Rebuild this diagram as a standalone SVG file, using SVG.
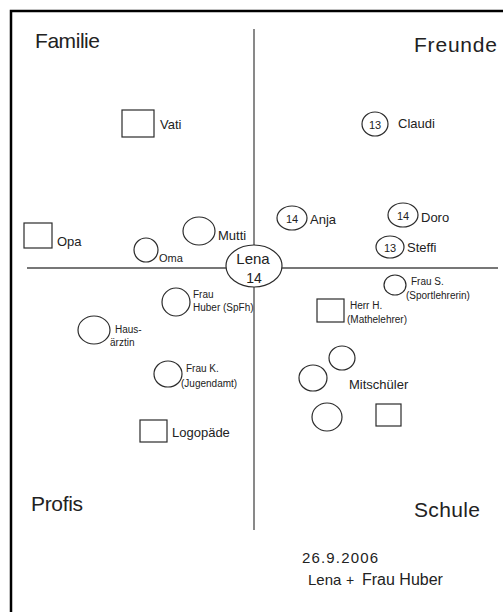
<svg xmlns="http://www.w3.org/2000/svg" width="503" height="612" viewBox="0 0 503 612">
<style>
.sh{fill:none;stroke:#2b2b2b;stroke-width:1.2}
.ax{fill:none;stroke:#4a4a4a;stroke-width:1.3}
text{font-family:"Liberation Sans",Arial,sans-serif;fill:#222}
.t{font-size:13px}
.s{font-size:10px}
.q{font-size:21px}
.n{font-size:11px}
</style>
<rect x="0" y="0" width="503" height="612" fill="#ffffff"/>
<path d="M11,620 V11 H520" fill="none" stroke="#000" stroke-width="2.5"/>
<g id="connectors">
<line class="ax" x1="254" y1="29" x2="254" y2="245"/>
<line class="ax" x1="254" y1="287" x2="254" y2="530"/>
<line class="ax" x1="27" y1="268" x2="226" y2="268"/>
<line class="ax" x1="282" y1="268" x2="498" y2="268"/>
</g>
<g id="quadrants">
<text class="q" x="35" y="48" textLength="65">Familie</text>
<text class="q" x="414" y="52" textLength="83">Freunde</text>
<text class="q" x="31" y="511" textLength="52">Profis</text>
<text class="q" x="414" y="517" textLength="66">Schule</text>
</g>
<g id="lena">
<ellipse class="sh" cx="254" cy="266" rx="28" ry="21" stroke-width="1.8"/>
<text x="253" y="264" font-size="15" text-anchor="middle">Lena</text>
<text x="254" y="283" font-size="14" text-anchor="middle">14</text>
</g>
<g id="vati">
<rect class="sh" x="122" y="110" width="32" height="27"/>
<text class="t" x="160" y="129">Vati</text>
</g>
<g id="opa">
<rect class="sh" x="24" y="223" width="28" height="25"/>
<text class="t" x="57" y="246">Opa</text>
</g>
<g id="oma">
<ellipse class="sh" cx="146" cy="250" rx="12" ry="12"/>
<text class="n" x="159" y="262">Oma</text>
</g>
<g id="mutti">
<ellipse class="sh" cx="199" cy="231" rx="16" ry="14"/>
<text class="t" x="218" y="240">Mutti</text>
</g>
<g id="claudi">
<ellipse class="sh" cx="375" cy="124" rx="13" ry="12"/>
<text class="n" x="375" y="129" text-anchor="middle">13</text>
<text class="t" x="398" y="128">Claudi</text>
</g>
<g id="anja">
<ellipse class="sh" cx="292" cy="218" rx="15" ry="12"/>
<text class="n" x="292" y="223" text-anchor="middle">14</text>
<text class="t" x="310" y="224">Anja</text>
</g>
<g id="doro">
<ellipse class="sh" cx="403" cy="215" rx="15" ry="12"/>
<text class="n" x="403" y="220" text-anchor="middle">14</text>
<text class="t" x="421" y="222">Doro</text>
</g>
<g id="steffi">
<ellipse class="sh" cx="390" cy="247" rx="14" ry="11"/>
<text class="n" x="390" y="252" text-anchor="middle">13</text>
<text class="t" x="407" y="252">Steffi</text>
</g>
<g id="frau-s">
<ellipse class="sh" cx="395" cy="285" rx="11" ry="10"/>
<text class="s" x="411" y="285">Frau S.</text>
<text class="s" x="406" y="299">(Sportlehrerin)</text>
</g>
<g id="herr-h">
<rect class="sh" x="317" y="299" width="27" height="23"/>
<text class="s" x="350" y="309">Herr H.</text>
<text class="s" x="347" y="323">(Mathelehrer)</text>
</g>
<g id="mitschueler">
<ellipse class="sh" cx="342" cy="358" rx="13" ry="12"/>
<ellipse class="sh" cx="313" cy="378" rx="14" ry="13"/>
<ellipse class="sh" cx="327" cy="417" rx="15" ry="14"/>
<rect class="sh" x="376" y="404" width="25" height="22"/>
<text class="t" x="349" y="389">Mitschüler</text>
</g>
<g id="frau-huber">
<ellipse class="sh" cx="176" cy="302" rx="14" ry="14"/>
<text class="s" x="193" y="298">Frau</text>
<text class="s" x="193" y="311">Huber (SpFh)</text>
</g>
<g id="hausaerztin">
<ellipse class="sh" cx="94" cy="330" rx="16" ry="14"/>
<text class="s" x="115" y="333">Haus-</text>
<text class="s" x="110" y="346">ärztin</text>
</g>
<g id="frau-k">
<ellipse class="sh" cx="168" cy="374" rx="14" ry="13"/>
<text class="s" x="186" y="372">Frau K.</text>
<text class="s" x="181" y="387">(Jugendamt)</text>
</g>
<g id="logopaede">
<rect class="sh" x="140" y="420" width="27" height="22"/>
<text class="t" x="172" y="437">Logopäde</text>
</g>
<g id="footer">
<text x="302" y="563" font-size="15" textLength="76">26.9.2006</text>
<text x="308" y="585" font-size="15">Lena</text>
<text x="346" y="585" font-size="14">+</text>
<text x="362" y="585" font-size="16">Frau Huber</text>
</g>
</svg>
